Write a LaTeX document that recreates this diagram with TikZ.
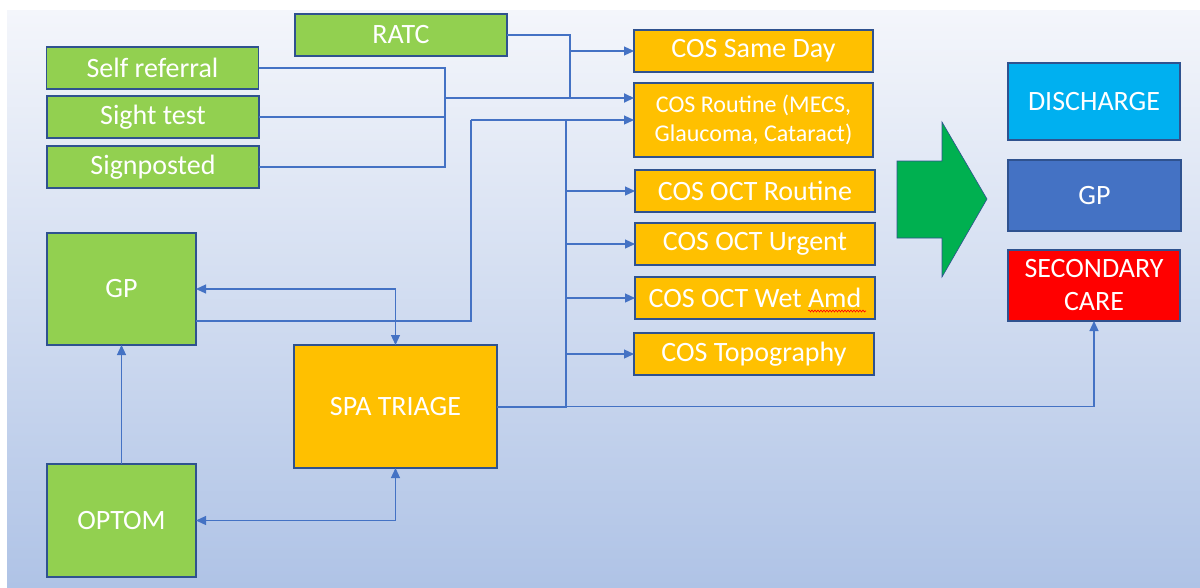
\documentclass[tikz,border=0pt]{standalone}
\usepackage{fontspec}
\setmainfont{Carlito}
\usetikzlibrary{arrows.meta,decorations.pathmorphing}
\definecolor{bgtop}{HTML}{F4F6FB}
\definecolor{bgbot}{HTML}{AFC3E6}
\definecolor{boxgreen}{HTML}{92D050}
\definecolor{boxorange}{HTML}{FFC000}
\definecolor{boxcyan}{HTML}{00B0F0}
\definecolor{boxblue}{HTML}{4472C4}
\definecolor{boxred}{HTML}{FF0000}
\definecolor{arrgreen}{HTML}{00B050}
\definecolor{edge}{HTML}{2F528F}
\definecolor{link}{HTML}{4472C4}
\begin{document}
\begin{tikzpicture}[x=1pt,y=-1pt,
  box/.style={draw=edge,line width=1.2pt,text=white,inner sep=0pt,outer sep=0pt,
    align=center,font=\fontsize{28}{33}\selectfont},
  gbox/.style={box,fill=boxgreen},
  obox/.style={box,fill=boxorange},
  conn/.style={draw=link,line width=1.2pt},
  thick conn/.style={draw=link,line width=2pt},
  arr/.style={-{Triangle[length=10pt,width=9pt]}},
  darr/.style={{Triangle[length=10pt,width=9pt]}-{Triangle[length=10pt,width=9pt]}}]
\useasboundingbox (0,0) rectangle (1200,587);
\fill[white] (0,0) rectangle (1200,587);
\fill[top color=bgtop,bottom color=bgbot] (7,10) rectangle (1200,587);

% left inputs
\node[gbox,minimum width=212pt,minimum height=42pt] (self) at (152.5,68) {Self referral};
\node[gbox,minimum width=212pt,minimum height=42pt] (sight) at (153,117) {Sight test};
\node[gbox,minimum width=212pt,minimum height=42pt] (signp) at (153,167) {Signposted};
\node[gbox,minimum width=212pt,minimum height=42pt] (ratc) at (401,35) {RATC};
\node[gbox,minimum width=149pt,minimum height=112pt] (gpL) at (121.5,289) {GP};
\node[gbox,minimum width=149pt,minimum height=113pt] (optom) at (121.5,520.5) {OPTOM};
\node[obox,minimum width=203pt,minimum height=123pt] (spa) at (395.5,406.5) {SPA TRIAGE};

% COS services
\node[obox,minimum width=239pt,minimum height=42pt] (cossd) at (753.5,51) {COS Same Day};
\node[obox,minimum width=239pt,minimum height=74pt,font=\fontsize{24}{29}\selectfont] (cosrt) at (753.5,120) {COS Routine (MECS,\\Glaucoma, Cataract)};
\node[obox,minimum width=240pt,minimum height=42pt] (cosoctr) at (755,191) {COS OCT Routine};
\node[obox,minimum width=240pt,minimum height=42pt] (cosocu) at (755,244) {COS OCT Urgent};
\node[obox,minimum width=240pt,minimum height=42pt] (coswet) at (755,298) {COS OCT Wet Amd};
\node[obox,minimum width=240pt,minimum height=42pt] (costopo) at (754,354) {COS Topography};
\draw[red,line width=0.6pt,decorate,decoration={snake,amplitude=1pt,segment length=3pt}] (808,311) -- (866,311);

% outcomes
\node[box,fill=boxcyan,minimum width=172pt,minimum height=77pt] (disch) at (1094,101.5) {DISCHARGE};
\node[box,fill=boxblue,minimum width=173pt,minimum height=71pt] (gpR) at (1094.5,195.5) {GP};
\node[box,fill=boxred,minimum width=172pt,minimum height=71pt] (sec) at (1094,285.5) {SECONDARY\\CARE};

% big green arrow
\fill[arrgreen,draw=edge,line width=0.6pt] (897,161) -- (942,161) -- (942,122) -- (987,199)
  -- (942,277) -- (942,238) -- (897,238) -- cycle;

% junction coordinates
\coordinate (jm) at (445,98);
\coordinate (jr) at (570,98);
\coordinate (jg) at (471,120);
\coordinate (js) at (566,406.5);
\coordinate (gpo) at (196,321);

% referrals to COS routine
\draw[conn] (self.east) -| (jm);
\draw[conn] (signp.east) -| (jm);
\draw[conn] (sight.east) -- (sight.east -| jm);
\draw[thick conn,arr] (jm) -- (jm -| cosrt.west);

% RATC
\draw[conn] (ratc.east) -| (jr);
\draw[conn,arr] (jr |- cossd.west) -- (cossd.west);

% GP to COS routine
\draw[conn] (gpo) -| (jg);
\draw[conn,arr] (jg) -- (jg -| cosrt.west);

% SPA triage bus
\draw[thick conn] (spa.east) -- (js) -- (js |- jg);
\draw[conn,arr] (js |- cosoctr.west) -- (cosoctr.west);
\draw[conn,arr] (js |- cosocu.west) -- (cosocu.west);
\draw[conn,arr] (js |- coswet.west) -- (coswet.west);
\draw[conn,arr] (js |- costopo.west) -- (costopo.west);
\draw[conn,arr] (js) -| (sec.south);

% GP / OPTOM / SPA
\draw[conn,darr] (gpL.east) -| (spa.north);
\draw[conn,darr] (optom.east) -| (spa.south);
\draw[conn,arr] (optom.north) -- (gpL.south);
\end{tikzpicture}
\end{document}
